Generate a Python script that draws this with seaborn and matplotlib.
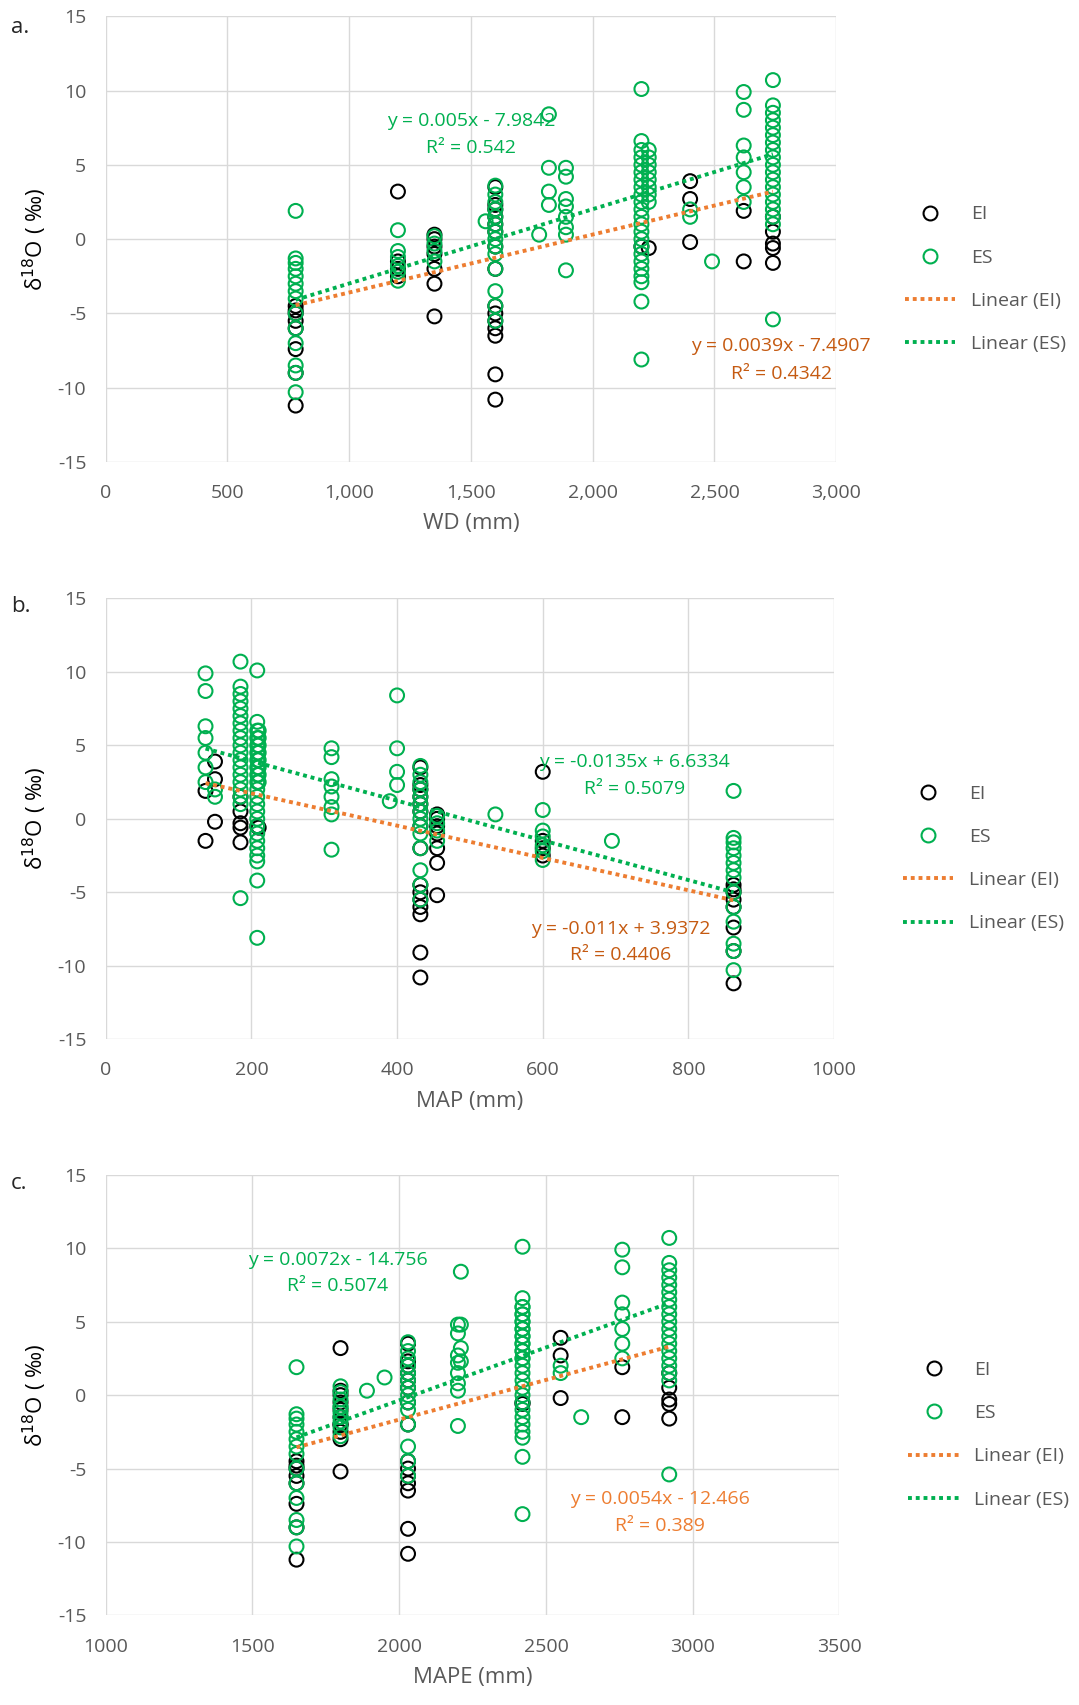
import matplotlib
matplotlib.use("Agg")
import matplotlib.pyplot as plt
import seaborn as sns
import pandas as pd
import numpy as np
from matplotlib.lines import Line2D
from matplotlib.ticker import FuncFormatter

sns.set_theme(style="white")
plt.rcParams['font.family'] = ['Open Sans', 'DejaVu Sans']
plt.rcParams['axes.unicode_minus'] = False

# site x-values in each panel
site_wd   = [780, 1200, 1350, 1560, 1600, 1780, 1820, 1890, 2200, 2230, 2400, 2490, 2620, 2740]
site_map  = [862, 600, 455, 390, 432, 535, 400, 310, 208, 210, 150, 695, 137, 185]
site_mape = [1650, 1800, 1800, 1950, 2030, 1890, 2210, 2200, 2420, 2420, 2550, 2620, 2760, 2920]

ei_vals = [
    [-11.2, -9.0, -7.4, -6.0, -5.5, -5.0, -4.8, -4.5],
    [3.2, -1.5, -2.0, -2.5],
    [0.3, 0.0, -0.5, -1.0, -2.0, -3.0, -5.2],
    [],
    [3.5, 2.3, 2.0, 1.5, 1.0, 0.5, -0.5, -2.0, -4.5, -5.0, -5.5, -6.0, -6.5, -9.1, -10.8],
    [], [], [],
    [-0.5], [-0.6],
    [3.9, 2.7, -0.2],
    [],
    [1.9, -1.5],
    [1.5, 0.5, -0.3, -0.6, -1.6],
]
es_vals = [
    [1.9, -1.3, -1.6, -2.0, -2.5, -3.0, -3.5, -4.0, -5.0, -6.0, -7.0, -8.5, -9.0, -10.3],
    [0.6, -0.8, -1.2, -1.8, -2.2, -2.8],
    [0.2, -0.3, -0.8, -1.5],
    [1.2],
    [3.6, 3.0, 2.5, 2.0, 1.5, 1.0, 0.5, 0.0, -0.5, -1.0, -2.0, -3.5, -4.5, -5.5],
    [0.3],
    [8.4, 4.8, 3.2, 2.3],
    [4.8, 4.2, 2.7, 2.2, 1.5, 0.8, 0.3, -2.1],
    [10.1, 6.6, 6.0, 5.5, 5.0, 4.5, 4.0, 3.5, 3.0, 2.5, 2.0, 1.5, 1.0, 0.5, 0.0, -0.5, -1.0, -1.5, -2.0, -2.5, -2.9, -4.2, -8.1],
    [6.0, 5.5, 5.0, 4.5, 4.0, 3.5, 3.0, 2.5],
    [2.0, 1.5],
    [-1.5],
    [9.9, 8.7, 6.3, 5.5, 4.5, 3.5, 2.5],
    [10.7, 9.0, 8.5, 8.0, 7.5, 7.0, 6.5, 6.0, 5.5, 5.0, 4.5, 4.0, 3.5, 3.0, 2.5, 2.0, 1.5, 1.0, -5.4],
]

# fits: (slope, intercept) for EI and ES
fits = {
    "a": [(0.0039, -7.4907), (0.005, -7.9842)],
    "b": [(-0.011, 3.9372), (-0.0135, 6.6334)],
    "c": [(0.0054, -12.466), (0.0072, -14.756)],
}
eq_text = {
    "a": [("y = 0.0039x - 7.4907", "R² = 0.4342"), ("y = 0.005x - 7.9842", "R² = 0.542")],
    "b": [("y = -0.011x + 3.9372", "R² = 0.4406"), ("y = -0.0135x + 6.6334", "R² = 0.5079")],
    "c": [("y = 0.0054x - 12.466", "R² = 0.389"), ("y = 0.0072x - 14.756", "R² = 0.5074")],
}
eq_pos = {
    "a": [(2774, -7.2, -9.1), (1502, 7.95, 6.1)],
    "b": [(707, -7.5, -9.3), (726, 3.9, 2.06)],
    "c": [(2890, -7.1, -8.9), (1790, 9.2, 7.4)],
}

ORANGE = "#ED7D31"
GREEN = "#00B050"
ORANGE_TXT = ["#C55A11", "#C55A11", ORANGE]

def build(xs, vals):
    xx, yy = [], []
    for x, v in zip(xs, vals):
        xx += [x] * len(v)
        yy += v
    return pd.DataFrame({"x": xx, "y": yy})

fig = plt.figure(figsize=(10.79, 17.05), dpi=100)
panels = [
    ("a", site_wd, "WD (mm)", (0, 3000), 500, True, [0.098, 0.729, 0.677, 0.2615], 0.984),
    ("b", site_map, "MAP (mm)", (0, 1000), 200, False, [0.098, 0.3905, 0.675, 0.2585], 0.644),
    ("c", site_mape, "MAPE (mm)", (1000, 3500), 500, False, [0.098, 0.0525, 0.680, 0.2585], 0.306),
]
for i, (key, xs, xlabel, xlim, step, comma, pos, top) in enumerate(panels):
    ax = fig.add_axes(pos)
    dei = build(xs, ei_vals)
    des = build(xs, es_vals)
    sns.scatterplot(data=dei, x="x", y="y", ax=ax, marker="o", s=100,
                    facecolors="none", edgecolor="black", linewidth=1.5, zorder=3)
    sns.scatterplot(data=des, x="x", y="y", ax=ax, marker="o", s=100,
                    facecolors="none", edgecolor=GREEN, linewidth=1.5, zorder=3)
    for (m, b), d, c in zip(fits[key], [dei, des], [ORANGE, GREEN]):
        xr = np.array([d.x.min(), d.x.max()])
        ax.plot(xr, m * xr + b, ls=(0, (1, 1)), color=c, lw=2.8, zorder=4)
    for j, ((e1, e2), (px, py1, py2)) in enumerate(zip(eq_text[key], eq_pos[key])):
        col = ORANGE_TXT[i] if j == 0 else "#00B050"
        ax.text(px, py1, e1, color=col, ha="center", va="center", fontsize=14, zorder=5)
        ax.text(px, py2, e2, color=col, ha="center", va="center", fontsize=14, zorder=5)
    ax.set_xlim(*xlim)
    ax.set_ylim(-15, 15)
    ax.set_xticks(np.arange(xlim[0], xlim[1] + 1, step))
    ax.set_yticks(np.arange(-15, 16, 5))
    if comma:
        ax.xaxis.set_major_formatter(FuncFormatter(lambda v, p: f"{int(v):,}"))
    ax.grid(True, color="#D9D9D9", lw=1)
    ax.set_axisbelow(True)
    for s in ax.spines.values():
        s.set_visible(False)
    ax.tick_params(axis="both", colors="#595959", labelsize=14, length=0)
    ax.tick_params(axis="x", pad=16)
    ax.tick_params(axis="y", pad=14)
    ax.set_xlabel(xlabel, fontsize=16, color="#595959", labelpad=8)
    ax.set_ylabel("δ$^{18}$O ( ‰)", fontsize=16, color="black", labelpad=6)
    fig.text(0.01, top, key + ".", fontsize=16, va="center")
    handles = [
        Line2D([], [], marker="o", ls="none", mfc="none", mec="black", ms=10, mew=1.5),
        Line2D([], [], marker="o", ls="none", mfc="none", mec=GREEN, ms=10, mew=1.5),
        Line2D([], [], color=ORANGE, ls=(0, (1, 1)), lw=2.8),
        Line2D([], [], color=GREEN, ls=(0, (1, 1)), lw=2.8),
    ]
    leg = ax.legend(handles, ["EI", "ES", "Linear (EI)", "Linear (ES)"],
                    loc="center left", bbox_to_anchor=(1.07, 0.41), frameon=False,
                    fontsize=14, labelspacing=1.3, handlelength=2.6)
    for t in leg.get_texts():
        t.set_color("#595959")

fig.savefig("out.png", dpi=100)
